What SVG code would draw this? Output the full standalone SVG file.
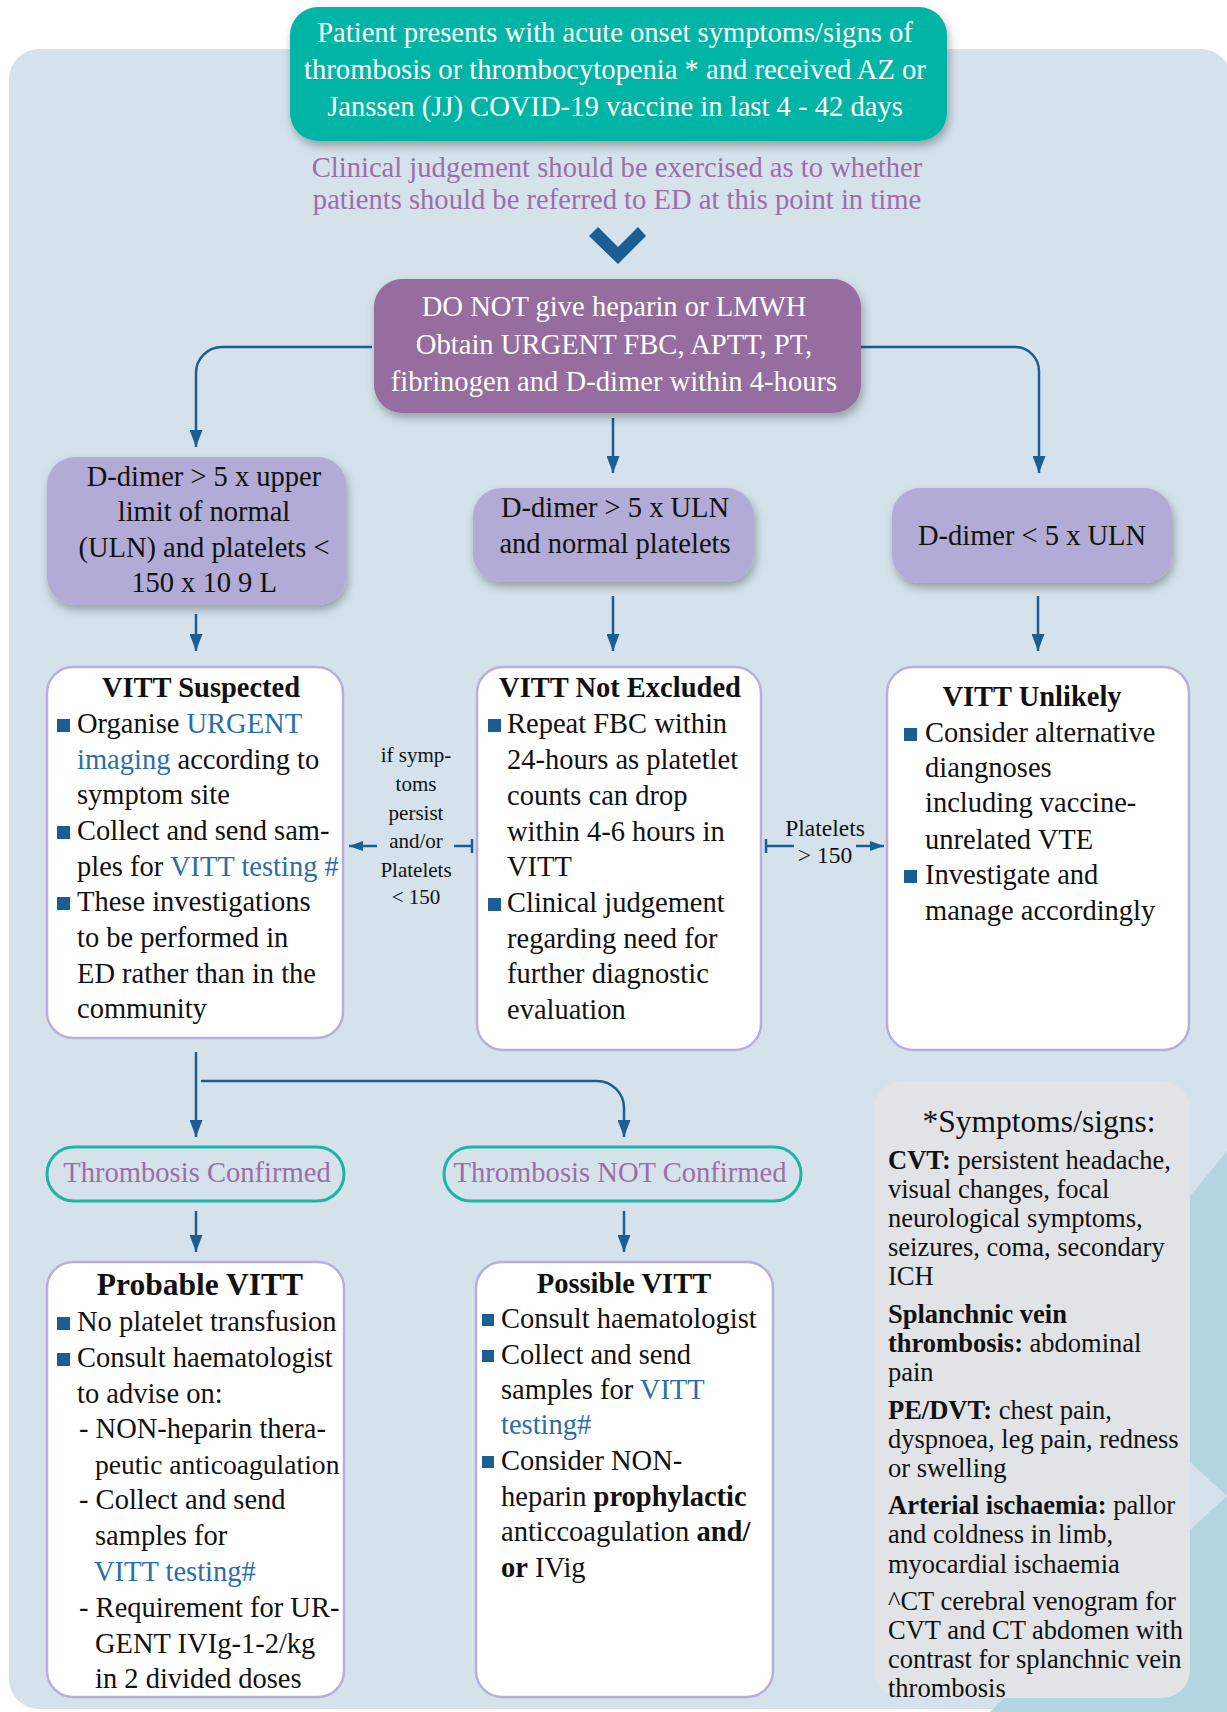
<svg xmlns="http://www.w3.org/2000/svg" width="1227" height="1712" viewBox="0 0 1227 1712">
<defs>
<style>
text{font-family:"Liberation Serif","Times New Roman",serif;}
.f28{font-size:28.5px;fill:#111;}
.wt{font-size:28.6px;fill:#fff;text-anchor:middle;}
.pt{font-size:28.6px;fill:#9b6fa6;text-anchor:middle;}
.lt{font-size:28.5px;fill:#111;text-anchor:middle;}
.ttl{font-size:28.5px;font-weight:bold;fill:#111;text-anchor:middle;}
.sm{font-size:21px;fill:#111;text-anchor:middle;}
.sm2{font-size:23.5px;fill:#111;text-anchor:middle;}
.sy{font-size:26.5px;fill:#111;}
.b{font-weight:bold;}
.bl{fill:#2b6ea6;}
.wbox{fill:#fff;stroke:#b7aedb;stroke-width:2.5;}
.lav{fill:#b2abd5;}
.pill{fill:none;stroke:#1db5a2;stroke-width:3;}
.bul{fill:#1b5e93;}
.con{fill:none;stroke:#1b5e93;stroke-width:2.5;}
</style>
<filter id="sh" x="-10%" y="-15%" width="125%" height="145%">
<feDropShadow dx="2" dy="5" stdDeviation="5" flood-color="#000" flood-opacity="0.3"/>
</filter>
<marker id="ah" markerWidth="17" markerHeight="13" refX="17" refY="6.5" orient="auto" markerUnits="userSpaceOnUse">
<path d="M0,0 L17,6.5 L0,13 z" fill="#1b5e93"/>
</marker>
<marker id="ahs" markerWidth="14" markerHeight="10" refX="14" refY="5" orient="auto" markerUnits="userSpaceOnUse">
<path d="M0,0 L14,5 L0,10 z" fill="#1b5e93"/>
</marker>
</defs>

<rect width="1227" height="1712" fill="#fff"/>
<rect x="9" y="49" width="1222" height="1660" rx="30" fill="#d5e2ec"/>
<polygon points="1227,1151 1100,1306 1100,1600 990,1712 1227,1712" fill="#b2d5e1"/>
<polygon points="1100,1380 1227,1496 1100,1612" fill="#d5e2ec"/>

<g id="connectors">
<path class="con" d="M372,347 H222 A26,26 0 0 0 196,373 V447" marker-end="url(#ah)"/>
<path class="con" d="M613,418 V473" marker-end="url(#ah)"/>
<path class="con" d="M861,347 H1015 A24,24 0 0 1 1039,371 V473" marker-end="url(#ah)"/>
<path class="con" d="M196,614 V651" marker-end="url(#ah)"/>
<path class="con" d="M613,596 V651" marker-end="url(#ah)"/>
<path class="con" d="M1038,596 V651" marker-end="url(#ah)"/>
<path class="con" d="M472,846 H454 M472,839 V853"/>
<path class="con" d="M377,846 H349" marker-end="url(#ahs)"/>
<path class="con" d="M766,846 H794 M766,839 V853"/>
<path class="con" d="M856,846 H884" marker-end="url(#ahs)"/>
<path class="con" d="M196,1052 V1137" marker-end="url(#ah)"/>
<path class="con" d="M201,1081 H597 A27,27 0 0 1 624,1108 V1137" marker-end="url(#ah)"/>
<path class="con" d="M196,1211 V1252" marker-end="url(#ah)"/>
<path class="con" d="M624,1211 V1252" marker-end="url(#ah)"/>
<polygon points="589,236 598,227 618,247 638,227 646,236 618,264" fill="#1b5e93"/>
</g>

<g id="start">
<rect x="290" y="7" width="657" height="134" rx="28" fill="#00b5a6" filter="url(#sh)"/>
<text class="wt" x="615" y="42">Patient presents with acute onset symptoms/signs of</text>
<text class="wt" x="615" y="79">thrombosis or thrombocytopenia * and received AZ or</text>
<text class="wt" x="615" y="116">Janssen (JJ) COVID-19 vaccine in last 4 - 42 days</text>
</g>

<g id="note">
<text class="pt" x="617" y="177">Clinical judgement should be exercised as to whether</text>
<text class="pt" x="617" y="209">patients should be referred to ED at this point in time</text>
</g>

<g id="tests">
<rect x="374" y="279" width="487" height="134" rx="28" fill="#956d9e" filter="url(#sh)"/>
<text class="wt" x="614" y="316">DO NOT give heparin or LMWH</text>
<text class="wt" x="614" y="354">Obtain URGENT FBC, APTT, PT,</text>
<text class="wt" x="614" y="391">fibrinogen and D-dimer within 4-hours</text>
</g>

<g id="ddimer-high-lowplt">
<rect class="lav" x="47" y="457" width="299" height="148" rx="28" filter="url(#sh)"/>
<text class="lt" x="204" y="486">D-dimer &gt; 5 x upper</text>
<text class="lt" x="204" y="521">limit of normal</text>
<text class="lt" x="204" y="557">(ULN) and platelets &lt;</text>
<text class="lt" x="204" y="592">150 x 10 9 L</text>
</g>

<g id="ddimer-high-normplt">
<rect class="lav" x="473" y="488" width="281" height="94" rx="28" filter="url(#sh)"/>
<text class="lt" x="615" y="517">D-dimer &gt; 5 x ULN</text>
<text class="lt" x="615" y="553">and normal platelets</text>
</g>

<g id="ddimer-low">
<rect class="lav" x="892" y="488" width="280" height="95" rx="28" filter="url(#sh)"/>
<text class="lt" x="1032" y="545">D-dimer &lt; 5 x ULN</text>
</g>

<g id="vitt-suspected">
<rect class="wbox" x="47" y="667" width="296" height="371" rx="26"/>
<text class="ttl" x="201" y="697">VITT Suspected</text>
<rect class="bul" x="57" y="719" width="13" height="13"/>
<text class="f28" x="77" y="733">Organise <tspan class="bl">URGENT</tspan></text>
<text class="f28" x="77" y="769"><tspan class="bl">imaging</tspan> according to</text>
<text class="f28" x="77" y="804">symptom site</text>
<rect class="bul" x="57" y="826" width="13" height="13"/>
<text class="f28" x="77" y="840">Collect and send sam-</text>
<text class="f28" x="77" y="876">ples for <tspan class="bl">VITT testing #</tspan></text>
<rect class="bul" x="57" y="897" width="13" height="13"/>
<text class="f28" x="77" y="911">These investigations</text>
<text class="f28" x="77" y="947">to be performed in</text>
<text class="f28" x="77" y="983">ED rather than in the</text>
<text class="f28" x="77" y="1018">community</text>
</g>

<g id="label-left">
<text class="sm" x="416" y="762">if symp-</text>
<text class="sm" x="416" y="791">toms</text>
<text class="sm" x="416" y="820">persist</text>
<text class="sm" x="416" y="848">and/or</text>
<text class="sm" x="416" y="877">Platelets</text>
<text class="sm" x="416" y="904">&lt; 150</text>
</g>

<g id="vitt-not-excluded">
<rect class="wbox" x="477" y="667" width="284" height="383" rx="26"/>
<text class="ttl" x="620" y="697">VITT Not Excluded</text>
<rect class="bul" x="488" y="719" width="13" height="13"/>
<text class="f28" x="507" y="733">Repeat FBC within</text>
<text class="f28" x="507" y="769">24-hours as platetlet</text>
<text class="f28" x="507" y="805">counts can drop</text>
<text class="f28" x="507" y="841">within 4-6 hours in</text>
<text class="f28" x="507" y="876">VITT</text>
<rect class="bul" x="488" y="898" width="13" height="13"/>
<text class="f28" x="507" y="912">Clinical judgement</text>
<text class="f28" x="507" y="948">regarding need for</text>
<text class="f28" x="507" y="983">further diagnostic</text>
<text class="f28" x="507" y="1019">evaluation</text>
</g>

<g id="label-right">
<text class="sm2" x="825" y="836">Platelets</text>
<text class="sm2" x="825" y="863">&gt; 150</text>
</g>

<g id="vitt-unlikely">
<rect class="wbox" x="887" y="667" width="302" height="383" rx="26"/>
<text class="ttl" x="1032" y="706">VITT Unlikely</text>
<rect class="bul" x="904" y="728" width="13" height="13"/>
<text class="f28" x="925" y="742">Consider alternative</text>
<text class="f28" x="925" y="777">diangnoses</text>
<text class="f28" x="925" y="812">including vaccine-</text>
<text class="f28" x="925" y="849">unrelated VTE</text>
<rect class="bul" x="904" y="870" width="13" height="13"/>
<text class="f28" x="925" y="884">Investigate and</text>
<text class="f28" x="925" y="920">manage accordingly</text>
</g>

<g id="thrombosis-confirmed">
<rect class="pill" x="47" y="1147" width="297" height="54" rx="27"/>
<text class="pt" x="197" y="1182">Thrombosis Confirmed</text>
</g>

<g id="thrombosis-not-confirmed">
<rect class="pill" x="444" y="1147" width="357" height="54" rx="27"/>
<text class="pt" x="620" y="1182">Thrombosis NOT Confirmed</text>
</g>

<g id="probable-vitt">
<rect class="wbox" x="47" y="1262" width="297" height="435" rx="26"/>
<text class="ttl" x="200" y="1295" style="font-size:31.5px">Probable VITT</text>
<rect class="bul" x="57" y="1317" width="13" height="13"/>
<text class="f28" x="77" y="1331">No platelet transfusion</text>
<rect class="bul" x="57" y="1353" width="13" height="13"/>
<text class="f28" x="77" y="1367">Consult haematologist</text>
<text class="f28" x="77" y="1403">to advise on:</text>
<text class="f28" x="79" y="1438">- NON-heparin thera-</text>
<text class="f28" x="95" y="1474" style="font-size:27.6px">peutic anticoagulation</text>
<text class="f28" x="79" y="1509">- Collect and send</text>
<text class="f28" x="95" y="1545">samples for</text>
<text class="f28 bl" x="94" y="1581">VITT testing#</text>
<text class="f28" x="79" y="1617">- Requirement for UR-</text>
<text class="f28" x="95" y="1653">GENT IVIg-1-2/kg</text>
<text class="f28" x="95" y="1688">in 2 divided doses</text>
</g>

<g id="possible-vitt">
<rect class="wbox" x="476" y="1262" width="297" height="435" rx="26"/>
<text class="ttl" x="624" y="1293">Possible VITT</text>
<rect class="bul" x="482" y="1314" width="12" height="12"/>
<text class="f28" x="501" y="1328">Consult haematologist</text>
<rect class="bul" x="482" y="1350" width="12" height="12"/>
<text class="f28" x="501" y="1364">Collect and send</text>
<text class="f28" x="501" y="1399">samples for <tspan class="bl">VITT</tspan></text>
<text class="f28 bl" x="501" y="1434">testing#</text>
<rect class="bul" x="482" y="1456" width="12" height="12"/>
<text class="f28" x="501" y="1470">Consider NON-</text>
<text class="f28" x="501" y="1506">heparin <tspan class="b">prophylactic</tspan></text>
<text class="f28" x="501" y="1541">anticcoagulation <tspan class="b">and/</tspan></text>
<text class="f28" x="501" y="1577"><tspan class="b">or</tspan> IVig</text>
</g>

<g id="symptoms">
<rect x="874" y="1081" width="316" height="617" rx="28" fill="#e1e3e6"/>
<text x="1039" y="1132" style="font-size:31.5px;fill:#111;text-anchor:middle">*Symptoms/signs:</text>
<text class="sy" x="888" y="1169"><tspan class="b">CVT:</tspan> persistent headache,</text>
<text class="sy" x="888" y="1198">visual changes, focal</text>
<text class="sy" x="888" y="1227">neurological symptoms,</text>
<text class="sy" x="888" y="1256">seizures, coma, secondary</text>
<text class="sy" x="888" y="1285">ICH</text>
<text class="sy b" x="888" y="1323">Splanchnic vein</text>
<text class="sy" x="888" y="1352"><tspan class="b">thrombosis:</tspan> abdominal</text>
<text class="sy" x="888" y="1381">pain</text>
<text class="sy" x="888" y="1419"><tspan class="b">PE/DVT:</tspan> chest pain,</text>
<text class="sy" x="888" y="1448">dyspnoea, leg pain, redness</text>
<text class="sy" x="888" y="1477">or swelling</text>
<text class="sy" x="888" y="1514"><tspan class="b">Arterial ischaemia:</tspan> pallor</text>
<text class="sy" x="888" y="1543">and coldness in limb,</text>
<text class="sy" x="888" y="1573">myocardial ischaemia</text>
<text class="sy" x="888" y="1610">^CT cerebral venogram for</text>
<text class="sy" x="888" y="1639">CVT and CT abdomen with</text>
<text class="sy" x="888" y="1668">contrast for splanchnic vein</text>
<text class="sy" x="888" y="1697">thrombosis</text>
</g>
</svg>
